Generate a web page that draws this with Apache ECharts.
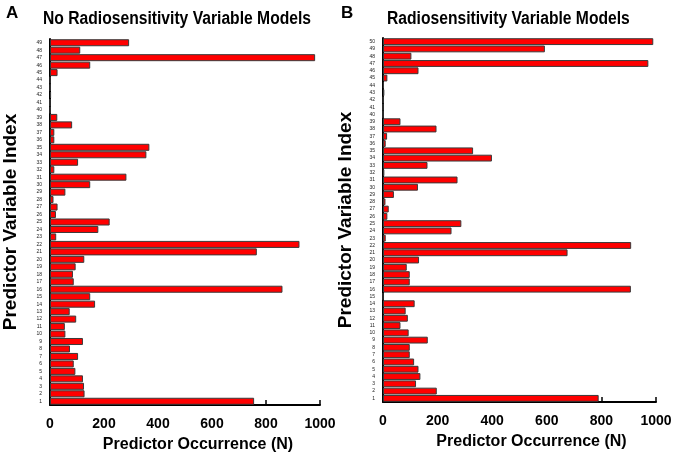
<!DOCTYPE html>
<html>
<head>
<meta charset="utf-8">
<script src="https://cdn.jsdelivr.net/npm/echarts@6/dist/echarts.min.js"></script>
<style>html,body{margin:0;padding:0;background:#fff}#c{width:675px;height:458px}</style>
</head>
<body>
<div id="c"></div>
<script>
// Panel A: No Radiosensitivity Variable Models (indices 1..49)
const catsA = Array.from({length: 49}, (_, i) => String(i + 1));
const valuesA = [756, 128, 126, 122, 94, 88, 104, 74, 122, 57,
                 55, 97, 73, 167, 149, 861, 88, 85, 95, 127,
                 766, 924, 23, 179, 221, 22, 28, 13, 57, 149,
                 283, 16, 104, 357, 368, 16, 16, 82, 27, 1,
                 0, 4, 1, 1, 28, 149, 982, 112, 293];
// Panel B: Radiosensitivity Variable Models (indices 1..50)
const catsB = Array.from({length: 50}, (_, i) => String(i + 1));
const valuesB = [790, 197, 121, 137, 130, 114, 98, 98, 164, 94,
                 64, 91, 83, 116, 0, 908, 98, 98, 87, 132,
                 676, 909, 10, 251, 287, 16, 21, 9, 40, 128,
                 273, 5, 163, 399, 330, 10, 15, 196, 64, 0,
                 0, 1, 5, 3, 16, 130, 972, 104, 593, 990];
const xTicks = [0, 200, 400, 600, 800, 1000];

const FONT = "'Liberation Sans', Arial, sans-serif";
const chart = echarts.init(document.getElementById('c'), null, {renderer: 'canvas'});

function xAxis(gridIndex, namePad) {
  return {
    type: 'value', gridIndex, min: xTicks[0], max: xTicks[xTicks.length - 1], interval: xTicks[1] - xTicks[0],
    name: 'Predictor Occurrence (N)', nameLocation: 'middle', nameGap: 32,
    nameTextStyle: {fontFamily: FONT, fontWeight: 'bold', fontSize: 16, color: '#000', padding: namePad},
    axisLine: {show: true, lineStyle: {color: '#000', width: 2}},
    axisTick: {show: true, inside: true, length: 5, lineStyle: {color: '#000', width: 1.5}},
    axisLabel: {fontFamily: FONT, fontWeight: 'bold', fontSize: 14, color: '#000', margin: 12,
                formatter: v => String(v)},
    splitLine: {show: false}
  };
}
function yAxis(gridIndex, cats, gap) {
  return {
    type: 'category', gridIndex, data: cats,
    name: 'Predictor Variable Index', nameLocation: 'middle', nameGap: gap, nameRotate: 90,
    nameTextStyle: {fontFamily: FONT, fontWeight: 'bold', fontSize: 19, color: '#000'},
    axisLine: {show: true, lineStyle: {color: '#000', width: 2}},
    axisTick: {show: false},
    axisLabel: {fontFamily: FONT, fontSize: 5, color: '#222', margin: 8, interval: 0},
    splitLine: {show: false}
  };
}
const barStyle = {color: '#ff0000', borderColor: '#3a3a3a', borderWidth: 1};

function titleText(text, x, y, size, sx) {
  return {type: 'text', x, y, scaleX: sx, silent: true,
          style: {text, fontFamily: FONT, fontWeight: 'bold', fontSize: size, fill: '#000',
                  textAlign: 'left', textVerticalAlign: 'middle'}};
}

chart.setOption({
  animation: false,
  backgroundColor: '#fff',
  graphic: [
    titleText('A', 6, 13, 17, 1),
    titleText('No Radiosensitivity Variable Models', 43, 19, 18, 0.87),
    titleText('B', 341, 13, 17, 1),
    titleText('Radiosensitivity Variable Models', 387, 19, 18, 0.87)
  ],
  grid: [
    {left: 47, right: 355, top: 39, bottom: 53},
    {left: 383, right: 19, top: 38, bottom: 56}
  ],
  xAxis: [xAxis(0, [0, 0, 0, 26]), xAxis(1, [0, 0, 0, 24])],
  yAxis: [yAxis(0, catsA, 30), yAxis(1, catsB, 28)],
  series: [
    {type: 'bar', xAxisIndex: 0, yAxisIndex: 0, data: valuesA, barCategoryGap: '6%', itemStyle: barStyle},
    {type: 'bar', xAxisIndex: 1, yAxisIndex: 1, data: valuesB, barCategoryGap: '6%', itemStyle: barStyle}
  ]
});
</script>
</body>
</html>
